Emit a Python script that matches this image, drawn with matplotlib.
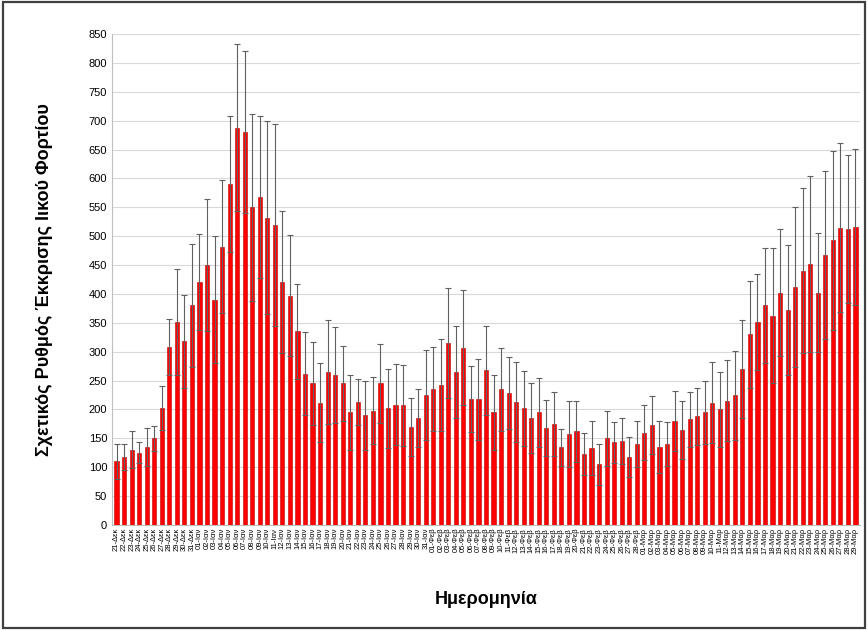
import matplotlib
matplotlib.use("Agg")
import matplotlib.pyplot as plt
import numpy as np

plt.rcParams["font.family"] = ["Liberation Sans", "DejaVu Sans"]

dec_days = list(range(21, 32))
jan_days = list(range(1, 32))
feb_days = list(range(1, 29))
mar_days = list(range(1, 30))
labels = ([f"{d:02d}-Δεκ" for d in dec_days] + [f"{d:02d}-Ιαν" for d in jan_days]
          + [f"{d:02d}-Φεβ" for d in feb_days] + [f"{d:02d}-Μαρ" for d in mar_days])

values = [110, 118, 130, 125, 135, 150, 203, 308, 352, 318, 380,
          420, 450, 390, 482, 590, 688, 680, 550, 568, 532, 520, 420, 397, 335, 262,
          245, 212, 265, 260, 245, 195, 213, 190, 198, 245, 202, 208, 207, 170, 185, 225,
          235, 242, 315, 265, 307, 218, 218, 268, 195, 235, 228, 213, 202, 185, 195, 168,
          175, 135, 158, 162, 123, 133, 105, 150, 143, 145, 118, 140,
          160, 173, 135, 140, 180, 165, 183, 188, 195, 212, 200, 215, 225, 270, 330, 352,
          380, 362, 402, 372, 412, 440, 452, 402, 467, 493, 515, 512, 516]

errors = [30, 22, 32, 18, 33, 22, 38, 48, 92, 80, 107,
          83, 115, 110, 115, 118, 145, 140, 162, 140, 167, 175, 123, 105, 82, 72,
          72, 68, 90, 83, 65, 65, 40, 60, 58, 68, 68, 70, 70, 50, 50, 78,
          73, 80, 95, 80, 100, 57, 70, 77, 65, 72, 62, 70, 65, 60, 60, 48,
          55, 32, 57, 53, 37, 47, 35, 47, 35, 40, 35, 40,
          48, 50, 45, 38, 52, 50, 48, 50, 55, 70, 65, 70, 77, 85, 92, 83,
          100, 117, 110, 112, 138, 143, 152, 103, 145, 155, 147, 128, 135]

fig = plt.figure(figsize=(8.68, 6.3), dpi=100)
ax = fig.add_axes([112 / 868, 105 / 630, 748 / 868, 491 / 630])
x = np.arange(len(values))
ax.bar(x, values, width=0.55, color="#ff0000", edgecolor="#c00000", linewidth=0.4, zorder=3)
ax.errorbar(x, values, yerr=errors, fmt="none", ecolor="#606060", elinewidth=0.8,
            capsize=2, capthick=0.8, zorder=4)

ax.set_ylim(0, 850)
ax.set_yticks(range(0, 851, 50))
ax.set_xlim(-0.6, len(values) - 0.4)
ax.set_xticks(x)
ax.set_xticklabels(labels, rotation=90, fontsize=5.5)
ax.tick_params(axis="y", labelsize=8, length=0)
ax.tick_params(axis="x", length=0, pad=2)
ax.grid(axis="y", color="#d9d9d9", linewidth=0.8, zorder=0)
for side in ["top", "right"]:
    ax.spines[side].set_visible(False)
ax.spines["left"].set_color("#bfbfbf")
ax.spines["bottom"].set_color("#bfbfbf")

ax.set_ylabel("Σχετικός Ρυθμός Έκκρισης Ιικού Φορτίου", fontsize=13, fontweight="bold", labelpad=26)
fig.text(486 / 868, 1 - 600 / 630, "Ημερομηνία", fontsize=13, fontweight="bold",
         ha="center", va="center")

border = plt.Rectangle((0.003, 0.003), 0.994, 0.994, transform=fig.transFigure,
                       fill=False, edgecolor="#404040", linewidth=1.6)
fig.patches.append(border)

fig.savefig("out.png", dpi=100)
